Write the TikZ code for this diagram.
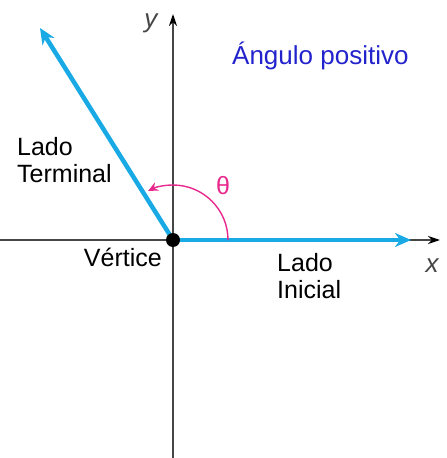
\documentclass[tikz,border=0pt]{standalone}
\usepackage{fontspec}
\setmainfont{Liberation Sans}
\usepackage{tikz}
\usetikzlibrary{positioning}
\usetikzlibrary{calc}
\usetikzlibrary{arrows.meta}

\definecolor{rayblue}{RGB}{25,170,230}
\definecolor{anglepink}{RGB}{232,40,140}
\definecolor{titleblue}{RGB}{35,35,205}
\definecolor{axisgray}{RGB}{70,70,70}

\begin{document}
\begin{tikzpicture}[x=1pt, y=1pt,
    axis/.style={draw=axisgray, line width=1.6pt, -{Stealth[length=12pt,width=8pt,color=black]}},
    ray/.style={draw=rayblue, line width=4.5pt, -{Stealth[length=16pt,width=14pt]}},
    lbl/.style={font=\fontsize{25}{27}\selectfont, align=left, inner sep=0pt},
    axlbl/.style={font=\fontsize{26}{26}\selectfont\itshape, text=axisgray, inner sep=0pt}]
    \useasboundingbox (-173,-218) rectangle (274,240);

    \coordinate (O) at (0,0);
    \coordinate (xl) at (-173,0);
    \coordinate (xr) at (267,0);
    \coordinate (yb) at (0,-218);
    \coordinate (yt) at (0,226);
    \coordinate (term) at (-133,212);
    \coordinate (init) at (238,0);

    % axes
    \draw[axis] (xl) -- (xr);
    \draw[axis] (yb) -- (yt);
    \node[axlbl] (xlab) at (259,-26) {x};
    \node[axlbl] (ylab) at (-22,217) {y};

    % sides of the angle
    \draw[ray] (O) -- (init);
    \draw[ray] (O) -- (term);

    % angle
    \draw[anglepink, line width=1.4pt, -{Stealth[length=10pt,width=9pt]}]
        (55,0) arc[start angle=0, end angle=117, radius=55];
    \node[font=\fontsize{25}{25}\selectfont, text=anglepink] (theta) at (50,54) {θ};

    \fill[black] (O) circle (7);

    % labels
    \node[lbl, anchor=base west] (terminal) at (-156,57) {Lado\\Terminal};
    \node[lbl, anchor=base east] (vertice) at (-11,-26) {Vértice};
    \node[lbl, anchor=base west] (inicial) at (104,-58) {Lado\\Inicial};
    \node[lbl, anchor=base west, text=titleblue, font=\fontsize{26}{26}\selectfont] (titulo) at (59,175) {Ángulo positivo};
\end{tikzpicture}
\end{document}
